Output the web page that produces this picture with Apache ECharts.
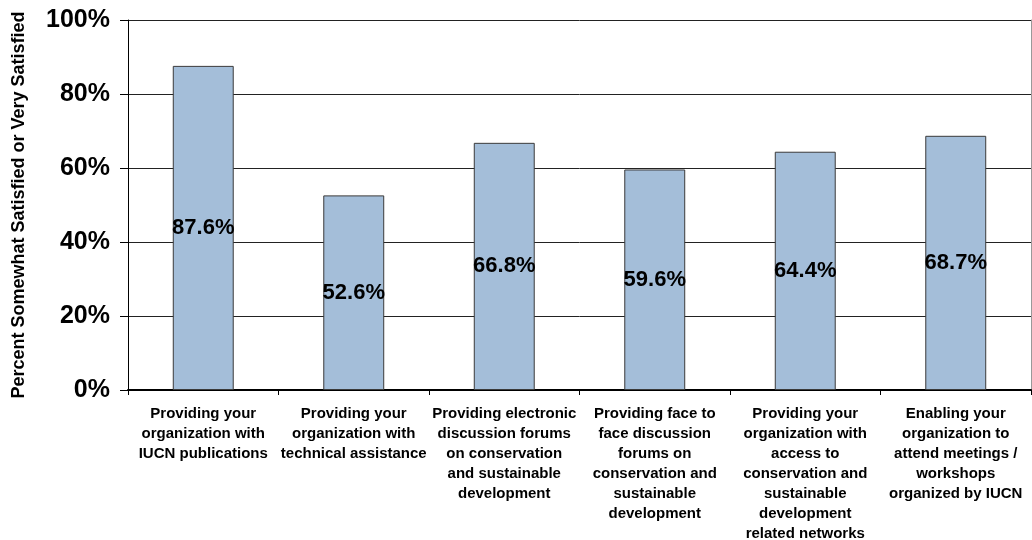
<!DOCTYPE html>
<html>
<head>
<meta charset="utf-8">
<script src="https://cdn.jsdelivr.net/npm/echarts@6/dist/echarts.min.js"></script>
<style>
html,body{margin:0;padding:0;background:#fff;}
#chart{width:1032px;height:540px;}
</style>
</head>
<body>
<div id="chart"></div>
<script>
const categories = [
  "Providing your\norganization with\nIUCN publications",
  "Providing your\norganization with\ntechnical assistance",
  "Providing electronic\ndiscussion forums\non conservation\nand sustainable\ndevelopment",
  "Providing face to\nface discussion\nforums on\nconservation and\nsustainable\ndevelopment",
  "Providing your\norganization with\naccess to\nconservation and\nsustainable\ndevelopment\nrelated networks",
  "Enabling your\norganization to\nattend meetings /\nworkshops\norganized by IUCN"
];
const satisfiedPct = [87.6, 52.6, 66.8, 59.6, 64.4, 68.7];
const yTicks = [0, 20, 40, 60, 80, 100];
const yAxisTitle = "Percent Somewhat Satisfied or Very Satisfied";

const FONT = "'Liberation Sans', Arial, sans-serif";
const chart = echarts.init(document.getElementById('chart'));
chart.setOption({
  animation: false,
  backgroundColor: '#fff',
  grid: { left: 128, right: 1, top: 20, bottom: 150, containLabel: false, outerBoundsMode: 'none' },
  xAxis: [{
    type: 'category',
    data: categories,
    position: 'bottom',
    axisLine: { lineStyle: { color: '#000', width: 1 } },
    axisTick: { show: true, length: 5, lineStyle: { color: '#000' } },
    axisLabel: {
      interval: 0, margin: 14, color: '#000', fontFamily: FONT,
      fontWeight: 'bold', fontSize: 15, lineHeight: 20, align: 'center'
    }
  }, {
    type: 'category',
    data: categories,
    position: 'top',
    axisLine: { lineStyle: { color: '#000', width: 2 } },
    axisTick: { show: false },
    axisLabel: { show: false }
  }],
  yAxis: [{
    type: 'value',
    min: yTicks[0], max: yTicks[yTicks.length - 1], interval: 20,
    name: yAxisTitle,
    nameLocation: 'middle',
    nameRotate: 90,
    nameGap: 100,
    nameTextStyle: { color: '#000', fontFamily: FONT, fontWeight: 'bold', fontSize: 18 },
    axisLine: { show: true, lineStyle: { color: '#000', width: 1 } },
    axisTick: { show: true, length: 8, lineStyle: { color: '#000' } },
    axisLabel: {
      margin: 18, color: '#000', fontFamily: FONT, fontWeight: 'bold', fontSize: 25,
      formatter: v => v + '%'
    },
    splitLine: { show: true, lineStyle: { color: '#222', width: 1 } }
  }, {
    type: 'value',
    position: 'right',
    min: 0, max: 100, interval: 20,
    axisLine: { show: true, lineStyle: { color: '#999', width: 1 } },
    axisTick: { show: false },
    axisLabel: { show: false },
    splitLine: { show: false }
  }],
  series: [{
    type: 'bar',
    data: satisfiedPct,
    barWidth: '40.5%',
    itemStyle: { color: '#a4bed9', borderColor: '#3a3a3a', borderWidth: 1 },
    label: {
      show: true, position: 'inside', color: '#000', fontFamily: FONT,
      fontWeight: 'bold', fontSize: 22,
      formatter: p => p.value.toFixed(1) + '%'
    }
  }]
});
</script>
</body>
</html>
